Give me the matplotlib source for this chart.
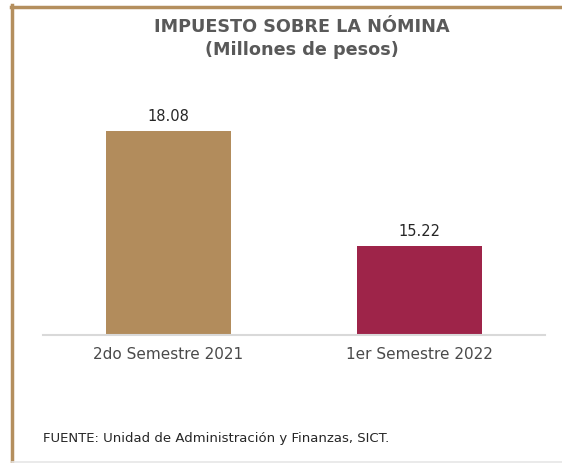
import matplotlib.pyplot as plt
from matplotlib.lines import Line2D

categories = ["2do Semestre 2021", "1er Semestre 2022"]
values = [18.08, 15.22]
bar_colors = ["#B28C5C", "#9E2449"]
title = "IMPUESTO SOBRE LA NÓMINA\n(Millones de pesos)"
source = "FUENTE: Unidad de Administración y Finanzas, SICT."

plt.rcParams["font.family"] = ["DejaVu Sans"]

fig = plt.figure(figsize=(5.62, 4.64), dpi=100)
ax = fig.add_axes([0.0765, 0.276, 0.893, 0.552])

x = range(len(categories))
ax.bar(x, values, width=0.5, color=bar_colors)
for xi, v in zip(x, values):
    ax.text(xi, v + 0.2, f"{v:.2f}", ha="center", va="bottom", fontsize=10.5, color="#262626")

ax.set_xlim(-0.5, 1.5)
ax.set_ylim(13, 19.37)
ax.set_xticks(list(x))
ax.set_xticklabels(categories, fontsize=11, color="#4a4a4a")
ax.tick_params(axis="x", length=0, pad=8)
ax.set_yticks([])
for side in ["top", "left", "right"]:
    ax.spines[side].set_visible(False)
ax.spines["bottom"].set_color("#D9D9D9")
ax.spines["bottom"].set_linewidth(1.5)

fig.text(0.537, 0.917, title, ha="center", va="center", fontsize=12.7,
         fontweight="bold", color="#595959", linespacing=1.3)
fig.text(0.0765, 0.054, source, ha="left", va="center", fontsize=9.5, color="#262626")

# frame lines around the panel
fig.add_artist(Line2D([12 / 562, 12 / 562], [0, 1 - 6 / 464], transform=fig.transFigure,
                      color="#B48F5E", linewidth=2.5))
fig.add_artist(Line2D([11 / 562, 1], [1 - 7.5 / 464, 1 - 7.5 / 464], transform=fig.transFigure,
                      color="#B48F5E", linewidth=2.5))
fig.add_artist(Line2D([12 / 562, 1], [1.5 / 464, 1.5 / 464], transform=fig.transFigure,
                      color="#E6E6E6", linewidth=1.2))

fig.savefig("out.png", dpi=100)
